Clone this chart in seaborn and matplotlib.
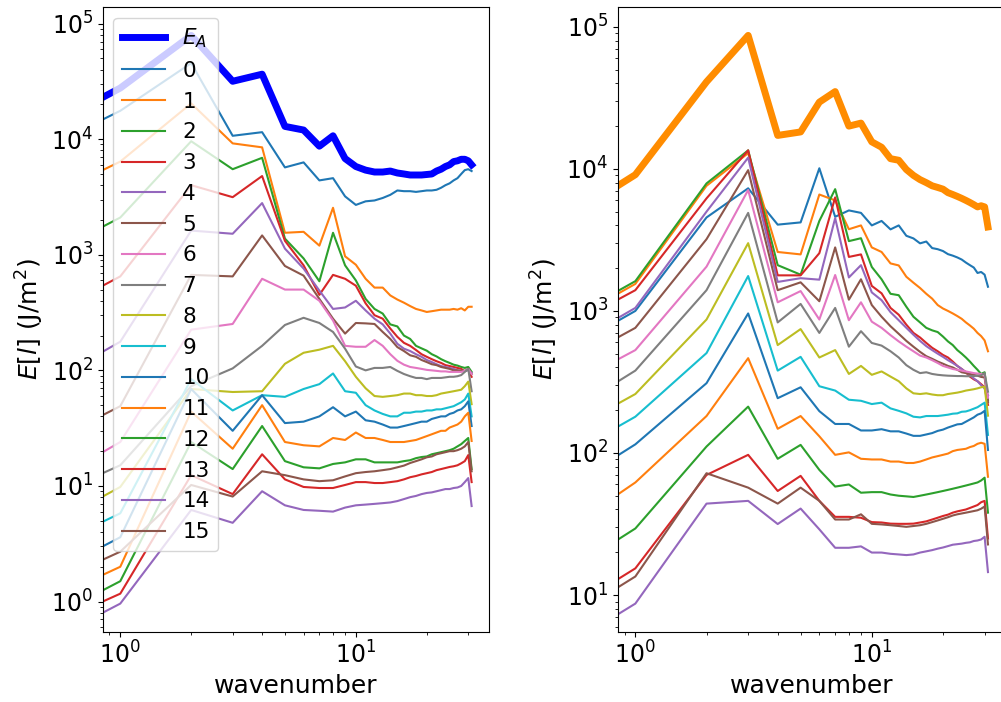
import numpy as np
import matplotlib
matplotlib.use("Agg")
import matplotlib.pyplot as plt
import seaborn as sns

# wavenumbers k = 0..31 (k = 0 sample sits at the left edge of the log axis)
wavenumber = np.arange(32)
mode_labels = [str(i) for i in range(16)]
ea_label = r"$E_A$"
xlabel = "wavenumber"
ylabel = r"$E[l]$ (J/m$^2$)"

# ---------------- left panel ----------------
EA_left = [23000, 27700, 79000, 31700, 36500, 12900, 12000, 8700, 10700, 6800, 5800,
           5400, 5200, 5200, 5300, 5100, 5000, 4900, 4900, 4900, 4950,
           5000, 5300, 5500, 5800, 6000, 6400, 6500, 6700, 6700, 6500, 6000]
L0 = [14800, 17600, 45500, 10700, 11500, 5700, 6300, 4400, 4600, 3200, 2700,
      2900, 2950, 3100, 3300, 3600, 3550, 3550, 3500, 3550, 3600,
      3600, 3650, 3800, 4000, 4150, 4400, 4600, 5000, 5400, 5500, 5300]
L1 = [5400, 6400, 20400, 9200, 8500, 1550, 1580, 1200, 2550, 970, 820,
      620, 520, 520, 445, 410, 385, 360, 340, 330, 320,
      325, 330, 335, 335, 335, 340, 335, 345, 330, 355, 355]
L2 = [1750, 2100, 9600, 5500, 6900, 1380, 930, 590, 1550, 810, 600,
      415, 340, 310, 250, 240, 200, 187, 163, 155, 148,
      138, 132, 125, 120, 116, 112, 110, 107, 105, 107, 97]
L3 = [540, 650, 4000, 3150, 4800, 1320, 810, 450, 670, 620, 540,
      380, 300, 280, 230, 195, 173, 163, 150, 138, 131,
      125, 120, 116, 111, 109, 107, 105, 103, 98, 103, 88]
L4 = [145, 177, 1620, 1520, 2800, 1130, 760, 490, 340, 350, 400,
      330, 280, 250, 208, 170, 154, 147, 138, 131, 123,
      118, 113, 109, 107, 105, 103, 100, 99, 99, 100, 95]
L5 = [41, 49, 670, 650, 1470, 800, 660, 415, 280, 208, 257,
      255, 252, 215, 187, 159, 147, 135, 131, 123, 118,
      113, 111, 107, 105, 103, 100, 100, 99, 99, 103, 93]
L6 = [19.6, 24, 225, 252, 620, 500, 500, 400, 270, 163, 160,
      160, 183, 163, 138, 121, 112, 107, 105, 103, 101,
      100, 99, 98, 98, 97, 97, 97, 97, 99, 103, 93]
L7 = [12.9, 15.1, 73, 104, 163, 247, 285, 257, 215, 154, 108,
      100, 105, 105, 107, 99, 93, 89, 86, 86, 84,
      86, 86, 86, 87, 88, 88, 89, 91, 97, 103, 66]
L8 = [8.1, 9.8, 69, 65, 66, 114, 142, 151, 163, 120, 88,
      70, 60, 59, 60, 61, 63, 63, 61, 61, 60,
      60, 61, 63, 64, 65, 66, 67, 68, 73, 80, 51]
L9 = [4.9, 5.8, 84, 45, 61, 59, 69, 76, 94, 66, 64,
      50, 45, 42, 40, 40, 43, 43, 44, 44, 45,
      45, 46, 46, 47, 48, 49, 51, 53, 56, 63, 40]
L10 = [3.0, 3.6, 69, 30, 61, 35, 36, 40, 48, 40, 44,
       37, 36, 34, 32, 32, 33, 34, 35, 36, 36,
       38, 39, 40, 40, 42, 43, 45, 46, 49, 54, 33]
L11 = [1.7, 2.0, 44, 21, 50, 24, 22.5, 22, 26, 25, 29,
       26, 26, 25, 24, 24, 24, 24.5, 25, 26, 27,
       28, 29, 30, 30, 32, 33, 34, 36, 40, 43, 24.5]
L12 = [1.25, 1.5, 24, 14, 33, 16.4, 14.5, 14.2, 15.5, 16, 17,
       17, 16, 16, 16, 16, 16.4, 16.7, 17.4, 17.8, 18,
       18.8, 19.2, 19.6, 20, 20.4, 21, 22, 23, 24.5, 26, 14]
L13 = [1.0, 1.17, 12.4, 8.5, 18.8, 11.4, 9.8, 9.6, 9.6, 10.2, 10.8,
       10.8, 10.6, 10.6, 10.8, 11, 11.4, 11.9, 12.2, 12.6, 12.9,
       13.2, 13.7, 14, 14.3, 14.6, 14.8, 15.1, 15.7, 16.4, 18.5, 10.8]
L14 = [0.80, 0.96, 6.2, 4.8, 9.0, 6.8, 6.2, 6.1, 6.0, 6.5, 6.8,
       6.9, 7.0, 7.1, 7.2, 7.4, 7.7, 8.0, 8.2, 8.5, 8.7,
       8.8, 9.0, 9.2, 9.4, 9.4, 9.6, 9.7, 10, 10.8, 11.7, 6.7]
L15 = [2.3, 2.7, 10.2, 8.1, 13.4, 12.4, 11.4, 11.0, 11.2, 12.1, 12.9,
       13.2, 13.4, 13.7, 14, 14.5, 15, 15.8, 16.4, 17, 17.7,
       18, 18.8, 19.2, 19.6, 20, 20, 20.4, 21, 22, 24, 13.4]
left_modes = [L0, L1, L2, L3, L4, L5, L6, L7, L8, L9, L10, L11, L12, L13, L14, L15]

# ---------------- right panel ----------------
EA_right = [7600, 9100, 41000, 87000, 17200, 18200, 29500, 35000, 20000, 21000, 15500,
            14200, 11800, 11500, 9900, 9000, 8400, 8000, 7600, 7400, 7200,
            6800, 6600, 6400, 6200, 6000, 5800, 5600, 5400, 5500, 5400, 3900]
R0 = [850, 1000, 4550, 7300, 4050, 4200, 10100, 4600, 5100, 4900, 4000,
      4300, 3750, 4000, 3380, 3240, 2990, 3080, 2770, 2720, 2640,
      2510, 2450, 2380, 2300, 2190, 2100, 2020, 1850, 1880, 1800, 1480]
R1 = [1320, 1550, 7600, 12900, 2600, 2500, 6600, 6000, 3760, 4000, 2800,
      2600, 2160, 2090, 1740, 1580, 1450, 1320, 1220, 1100, 1040,
      1000, 960, 920, 880, 830, 790, 750, 700, 665, 620, 520]
R2 = [1380, 1620, 7900, 13500, 2100, 1800, 4300, 7200, 3100, 3250, 2040,
      1670, 1320, 1290, 1070, 910, 830, 760, 730, 710, 660,
      610, 575, 530, 500, 470, 440, 410, 385, 360, 370, 235]
R3 = [1200, 1400, 6200, 13500, 1780, 1780, 2550, 6300, 2400, 2500, 1500,
      1330, 1050, 940, 800, 700, 650, 595, 550, 520, 490,
      470, 440, 410, 390, 370, 345, 330, 320, 305, 290, 218]
R4 = [890, 1050, 5000, 12000, 1600, 1700, 1660, 4500, 1720, 2100, 1350,
      1190, 980, 860, 760, 680, 615, 565, 530, 500, 475,
      450, 430, 410, 390, 370, 355, 335, 320, 300, 285, 255]
R5 = [650, 760, 3200, 9800, 1400, 1590, 1170, 2800, 1200, 1670, 1100,
      910, 780, 690, 615, 560, 515, 480, 460, 440, 425,
      410, 400, 385, 370, 365, 360, 355, 350, 343, 340, 228]
R6 = [455, 530, 2050, 7100, 1150, 1380, 870, 1790, 860, 1150, 840,
      760, 675, 610, 560, 520, 485, 470, 450, 430, 410,
      400, 390, 385, 380, 375, 370, 365, 362, 360, 355, 245]
R7 = [318, 380, 1400, 4900, 830, 1120, 700, 1050, 560, 720, 595,
      570, 520, 470, 415, 385, 365, 370, 360, 355, 352,
      350, 349, 348, 348, 347, 347, 348, 350, 352, 365, 270]
R8 = [222, 260, 870, 3000, 575, 745, 470, 530, 360, 410, 355,
      375, 345, 320, 285, 263, 260, 263, 258, 255, 255,
      260, 263, 266, 270, 275, 278, 281, 285, 290, 293, 183]
R9 = [153, 180, 505, 1760, 380, 475, 295, 275, 237, 233, 221,
      226, 206, 198, 190, 180, 178, 182, 182, 182, 184,
      186, 189, 190, 195, 196, 200, 205, 210, 218, 226, 134]
R10 = [96, 115, 310, 960, 243, 290, 197, 160, 160, 144, 144,
       147, 142, 142, 137, 132, 132, 135, 138, 143, 146,
       151, 155, 159, 160, 166, 172, 178, 186, 190, 198, 105]
R11 = [51, 62, 182, 465, 148, 182, 131, 97, 101, 91, 90,
       90, 87, 87, 85, 85, 87, 90, 93, 95, 97,
       99, 103, 105, 106, 107, 110, 112, 116, 118, 116, 68]
R12 = [24.5, 29.4, 111, 212, 91, 114, 76, 58, 60, 52.5, 53,
       53, 51, 50, 49.5, 49, 50, 51, 52, 53, 54,
       55, 56, 57, 58, 59, 60, 61, 62, 64, 67, 38]
R13 = [12.9, 15.4, 70, 97, 54, 69, 46, 35.5, 35.5, 35, 32.6,
       32.4, 31.8, 31.7, 31.7, 31.8, 32.4, 33, 34, 35, 36,
       36.8, 38, 38.8, 39.4, 40, 41, 42, 43, 45, 46, 25]
R14 = [7.3, 8.7, 44, 46, 31.6, 40.6, 29, 21.5, 21.5, 22, 19.9,
       19.9, 19.5, 19.3, 19.1, 19.3, 19.9, 20.3, 20.7, 21.2, 21.6,
       22.1, 22.6, 22.8, 23, 23.3, 23.5, 24, 24.2, 24.6, 25.7, 14.5]
R15 = [11.3, 13.5, 72, 57, 44, 57, 46, 34, 34, 37, 31.7,
       31.4, 31, 30.6, 30.2, 30.6, 31, 31.7, 32.6, 33.5, 34.4,
       35.3, 36.3, 37, 37.5, 38, 38.5, 39, 39.5, 40.5, 42, 22.7]
right_modes = [R0, R1, R2, R3, R4, R5, R6, R7, R8, R9, R10, R11, R12, R13, R14, R15]


def log_limits(vals, frac=0.05):
    lv = np.log10(np.asarray(vals, dtype=float))
    lo, hi = lv.min(), lv.max()
    pad = frac * (hi - lo)
    return 10 ** (lo - pad), 10 ** (hi + pad)


def draw_panel(ax, ea, modes, ea_color, with_legend):
    ax.set_xscale("log")
    ax.set_yscale("log")
    k = wavenumber.astype(float)
    xlo, xhi = log_limits(k[k > 0])
    # the k = 0 sample cannot be shown on a log axis; it is pinned to the left edge
    x = np.where(k > 0, k, xlo)
    sns.lineplot(x=x, y=np.asarray(ea, float), ax=ax, color=ea_color, linewidth=5,
                 label=ea_label, sort=False, estimator=None)
    for i, m in enumerate(modes):
        sns.lineplot(x=x, y=np.asarray(m, float), ax=ax, color=f"C{i % 10}",
                     linewidth=1.5, label=mode_labels[i], sort=False, estimator=None)
    allv = np.concatenate([np.asarray(ea, float)[k > 0]] +
                          [np.asarray(m, float)[k > 0] for m in modes])
    ylo, yhi = log_limits(allv)
    ax.set_xlim(xlo, xhi)
    ax.set_ylim(ylo, yhi)
    ax.set_xlabel(xlabel, fontsize=18)
    ax.set_ylabel(ylabel, fontsize=18)
    ax.tick_params(axis="both", which="major", labelsize=17)
    leg = ax.get_legend()
    if leg is not None:
        leg.remove()
    if with_legend:
        ax.legend(loc="upper left", fontsize=15.5)


fig = plt.figure(figsize=(10.01, 7.02), dpi=100)
ax1 = fig.add_axes([0.1026, 0.0997, 0.3861, 0.8903])
ax2 = fig.add_axes([0.6171, 0.0997, 0.3875, 0.8903])

draw_panel(ax1, EA_left, left_modes, "blue", True)
draw_panel(ax2, EA_right, right_modes, "darkorange", False)

fig.savefig("out.png", dpi=100)
